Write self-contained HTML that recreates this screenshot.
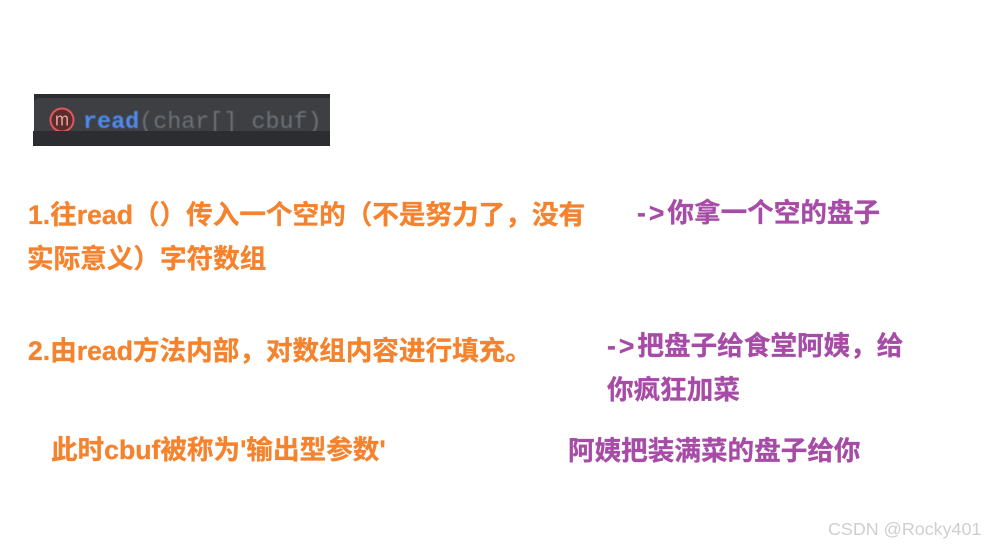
<!DOCTYPE html>
<html lang="zh">
<head>
<meta charset="utf-8">
<style>
html,body{margin:0;padding:0;background:#fff;}
body{width:984px;height:546px;position:relative;overflow:hidden;font-family:"Liberation Sans","Noto Sans CJK SC",sans-serif;}
.t{position:absolute;white-space:nowrap;font-weight:700;font-size:26.6px;line-height:34px;font-family:"Liberation Sans","Noto Sans CJK SC",sans-serif;-webkit-text-stroke:.3px currentColor;filter:blur(.35px);}
.o{color:#f5822d;}
.p{color:#a64ca6;}
.a{letter-spacing:3px;}
</style>
</head>
<body>
<div style="position:absolute;left:34px;top:94px;width:296px;height:40px;background:#2c2d30;"></div>
<div style="position:absolute;left:34px;top:98px;width:296px;height:34px;background:#3e3f43;border-top-left-radius:5px;"></div>
<svg style="position:absolute;left:48px;top:106px;" width="28" height="28"><circle cx="14" cy="14" r="11.5" fill="#5a2c2c" stroke="#e0575a" stroke-width="2"/><text x="14" y="19.5" font-family="Liberation Sans" font-size="18" fill="#e8a8a0" text-anchor="middle" textLength="14" lengthAdjust="spacingAndGlyphs">m</text></svg>
<div style="position:absolute;left:83px;top:108px;font:23.4px/30px 'Liberation Mono',monospace;white-space:nowrap;color:#6b7278;filter:blur(.4px);"><span style="color:#4f8bf0;font-weight:700;">read</span>(char[] cbuf)</div>
<div style="position:absolute;left:33px;top:131px;width:297px;height:15px;background:#2c2d30;"></div>

<div class="t o" style="left:28px;top:198px;">1.往read（）传入一个空的（不是努力了，没有</div>
<div class="t o" style="left:27px;top:242px;">实际意义）字符数组</div>
<div class="t o" style="left:28px;top:334px;">2.由read方法内部，对数组内容进行填充。</div>
<div class="t o" style="left:51px;top:433px;">此时cbuf被称为'输出型参数'</div>

<div class="t p" style="left:637px;top:196px;"><span class="a">-&gt;</span>你拿一个空的盘子</div>
<div class="t p" style="left:607px;top:329px;"><span class="a">-&gt;</span>把盘子给食堂阿姨，给</div>
<div class="t p" style="left:607px;top:373px;">你疯狂加菜</div>
<div class="t p" style="left:568px;top:434px;">阿姨把装满菜的盘子给你</div>

<div style="position:absolute;left:828px;top:518px;font:17.9px/22px 'Liberation Sans',sans-serif;color:#cfcfcf;white-space:nowrap;">CSDN @Rocky401</div>
</body>
</html>
